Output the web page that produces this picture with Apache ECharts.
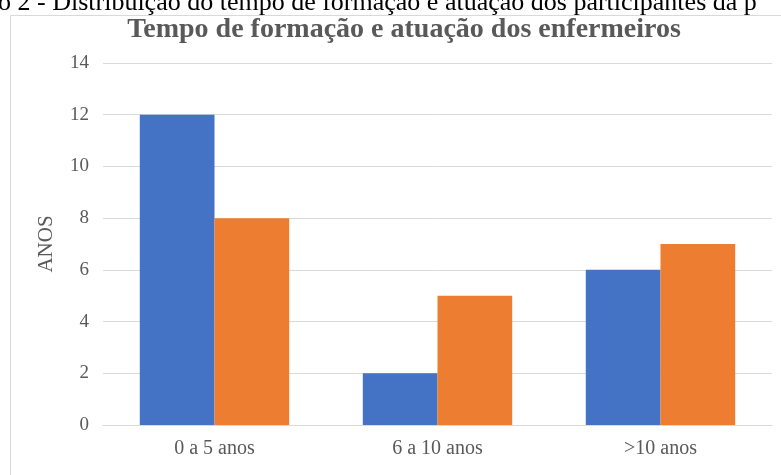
<!DOCTYPE html>
<html>
<head>
  <meta charset="utf-8">
  <title>Tempo de formação e atuação dos enfermeiros</title>
  <script src="https://cdn.jsdelivr.net/npm/echarts@6/dist/echarts.min.js"></script>
  <style>
    html, body { margin: 0; padding: 0; background: #fff; }
  </style>
</head>
<body>
  <div id="main" style="width: 781px;height:475px;"></div>

  <script>
    const categories = ["0 a 5 anos", "6 a 10 anos", ">10 anos"];
    const formacao = [12, 2, 6];
    const atuacao = [8, 5, 7];

    const chart = echarts.init(document.getElementById("main"));
    const serif = "'Liberation Serif', 'DejaVu Serif', serif";
    const grey = "#595959";

    const option = {
      animation: false,
      textStyle: { fontFamily: serif },
      graphic: [
        {
          type: "rect",
          shape: { x: 10.5, y: 15.5, width: 800, height: 500 },
          style: { fill: "none", stroke: "#d9d9d9", lineWidth: 1 }
        },
        {
          type: "text",
          left: -2,
          top: -10,
          style: {
            text: "o 2 - Distribuição do tempo de formação e atuação dos participantes da p",
            fill: "#000",
            font: "26px " + serif
          }
        }
      ],
      title: {
        text: "Tempo de formação e atuação dos enfermeiros",
        left: 399,
        textAlign: "center",
        top: 11,
        textStyle: {
          fontFamily: serif,
          fontSize: 28,
          fontWeight: "bold",
          color: grey
        }
      },
      grid: { left: 103, right: 9, top: 63, bottom: 50 },
      xAxis: {
        type: "category",
        data: categories,
        axisTick: { show: false },
        axisLine: { lineStyle: { color: "#d9d9d9", width: 1 } },
        axisLabel: { color: grey, fontSize: 20, margin: 14, fontFamily: serif }
      },
      yAxis: {
        type: "value",
        min: 0,
        max: 14,
        interval: 2,
        name: "ANOS",
        nameLocation: "middle",
        nameGap: 46,
        nameTextStyle: { color: grey, fontSize: 21, fontFamily: serif },
        axisLine: { show: false },
        axisTick: { show: false },
        axisLabel: { color: grey, fontSize: 19, margin: 14, fontFamily: serif },
        splitLine: { lineStyle: { color: "#d9d9d9", width: 1 } }
      },
      series: [
        {
          name: "Formação",
          type: "bar",
          data: formacao,
          barGap: "0%",
          barCategoryGap: "33%",
          itemStyle: { color: "#4472C4" }
        },
        {
          name: "Atuação",
          type: "bar",
          data: atuacao,
          itemStyle: { color: "#ED7D31" }
        }
      ]
    };
    chart.setOption(option);
  </script>
</body>
</html>
